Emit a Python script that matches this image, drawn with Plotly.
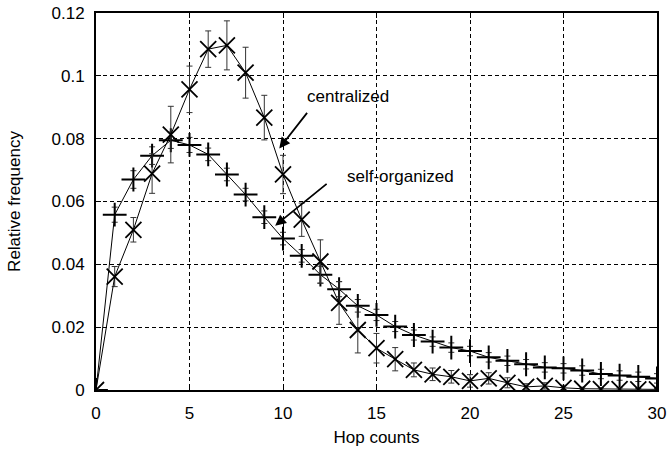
import plotly.graph_objects as go

hops = list(range(0, 31))

self_org = [0.0, 0.0558, 0.067, 0.0746, 0.0795, 0.078, 0.075, 0.0686, 0.0622, 0.055,
            0.0482, 0.0427, 0.0367, 0.0321, 0.0268, 0.0239, 0.0202, 0.0175, 0.0154, 0.0135,
            0.0124, 0.0104, 0.0093, 0.0082, 0.0072, 0.0069, 0.0062, 0.0051, 0.0046, 0.0042, 0.0037]
self_org_err = [0.0, 0.0024, 0.0028, 0.0028, 0.0026, 0.0024, 0.002, 0.002, 0.002, 0.002,
                0.002, 0.002, 0.0027, 0.0024, 0.002, 0.0018, 0.0016, 0.0016, 0.0015, 0.0015,
                0.0015, 0.0015, 0.0015, 0.0015, 0.0015, 0.0015, 0.0015, 0.0015, 0.0015, 0.0015, 0.0015]

central = [0.0, 0.0361, 0.051, 0.0689, 0.0813, 0.0957, 0.1085, 0.1097, 0.101, 0.0867,
           0.0686, 0.0542, 0.0409, 0.0277, 0.0191, 0.0133, 0.0098, 0.0064, 0.005, 0.0042,
           0.0029, 0.0037, 0.0023, 0.001, 0.0013, 0.0007, 0.0004, 0.0003, 0.0003, 0.0002, 0.0002]
central_err = [0.0, 0.0032, 0.0039, 0.0063, 0.009, 0.0074, 0.0058, 0.0078, 0.0081, 0.0071,
               0.0061, 0.0053, 0.0069, 0.0068, 0.0073, 0.0047, 0.0037, 0.0022, 0.002, 0.002,
               0.002, 0.0018, 0.0016, 0.001, 0.001, 0.0008, 0.0005, 0.0004, 0.0004, 0.0003, 0.0003]

x_ticks = [0, 5, 10, 15, 20, 25, 30]
y_ticks = [0, 0.02, 0.04, 0.06, 0.08, 0.1, 0.12]
y_tick_text = ["0", "0.02", "0.04", "0.06", "0.08", "0.1", "0.12"]

fig = go.Figure()
fig.add_trace(go.Scatter(
    x=hops, y=self_org, mode="lines+markers", name="self-organized",
    line=dict(color="black", width=1),
    marker=dict(symbol="cross-thin-open", size=17, line=dict(color="black", width=2)),
    error_y=dict(type="data", array=self_org_err, visible=True, color="#333", thickness=1, width=3),
))
fig.add_trace(go.Scatter(
    x=hops, y=central, mode="lines+markers", name="centralized",
    line=dict(color="black", width=1),
    marker=dict(symbol="x-thin-open", size=16, line=dict(color="black", width=1.8)),
    error_y=dict(type="data", array=central_err, visible=True, color="#333", thickness=1, width=3),
))

font = dict(family="Liberation Sans, Arial, sans-serif", size=17, color="black")

fig.update_layout(
    width=669, height=452,
    margin=dict(l=96, r=12, t=13, b=62),
    paper_bgcolor="white", plot_bgcolor="white",
    showlegend=False, font=font,
    xaxis=dict(range=[0, 30], tickvals=x_ticks, showgrid=True, gridcolor="black",
               griddash="4px,3px", gridwidth=1, zeroline=False, automargin=False,
               showline=True, linecolor="black", linewidth=2, mirror="ticks",
               ticks="inside", ticklen=5, tickcolor="black", ticklabelstandoff=7,
               title=dict(text="Hop counts", standoff=9, font=font)),
    yaxis=dict(range=[0, 0.12], tickvals=y_ticks, ticktext=y_tick_text, showgrid=True,
               gridcolor="black", griddash="4px,3px", gridwidth=1, zeroline=False, automargin=False,
               showline=True, linecolor="black", linewidth=2, mirror="ticks",
               ticks="inside", ticklen=5, tickcolor="black", ticklabelstandoff=6,
               title=dict(text="Relative frequency", standoff=27, font=font)),
    annotations=[
        dict(x=9.8, y=0.0769, xref="x", yref="y", ax=29, ay=-37, text="",
             showarrow=True, arrowhead=2, arrowsize=1.2, arrowwidth=1.8, arrowcolor="black"),
        dict(x=9.58, y=0.0523, xref="x", yref="y", ax=53, ay=-43, text="",
             showarrow=True, arrowhead=2, arrowsize=1.2, arrowwidth=1.8, arrowcolor="black"),
        dict(x=13.5, y=0.0935, xref="x", yref="y", text="centralized", showarrow=False, font=font),
        dict(x=16.3, y=0.068, xref="x", yref="y", text="self-organized", showarrow=False, font=font),
    ],
)

fig.write_html("out.html")
